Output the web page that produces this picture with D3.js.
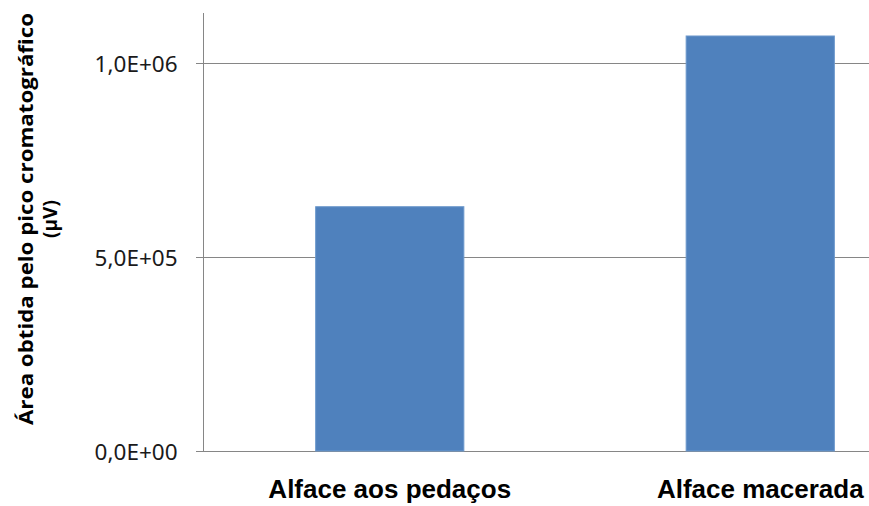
<!DOCTYPE html>
<html>
<head>
<meta charset="utf-8">
<script src="https://cdn.jsdelivr.net/npm/d3@7"></script>
<style>
  html, body { margin: 0; padding: 0; background: #ffffff; }
  svg { display: block; }
</style>
</head>
<body>
<svg id="chart" width="869" height="506"></svg>
<script>
// Chromatographic peak area per lettuce preparation
const categories = ["Alface aos pedaços", "Alface macerada"];
const values = [629600, 1069600];
const tickValues = [0, 500000, 1000000];
const tickLabels = ["0,0E+00", "5,0E+05", "1,0E+06"];
const yTitleLines = ["Área obtida pelo pico cromatográfico", "(µV)"];

const W = 869, H = 506;
const plot = { left: 203.5, top: 13, bottom: 451, right: 945.5 };

const svg = d3.select("#chart");

const y = d3.scaleLinear()
  .domain([0, 1000000])
  .range([plot.bottom, 63]);

const x = d3.scaleBand()
  .domain(categories)
  .range([plot.left + 1, plot.right])
  .paddingInner(0.6)
  .paddingOuter(0.3);

const gridColor = "#868686";

// horizontal gridlines with short ticks left of the axis
const yAxis = d3.axisLeft(y)
  .tickValues(tickValues)
  .tickSize(8)
  .tickPadding(18)
  .tickFormat((d, i) => tickLabels[i]);

const gy = svg.append("g")
  .attr("transform", `translate(${plot.left},0)`)
  .call(yAxis);

gy.select(".domain").remove();
gy.selectAll(".tick line").attr("stroke", gridColor).attr("shape-rendering", "crispEdges");
gy.selectAll(".tick").append("line")
  .attr("x1", 0).attr("x2", W - plot.left)
  .attr("stroke", gridColor)
  .attr("shape-rendering", "crispEdges");
gy.selectAll(".tick text")
  .attr("font-family", "'Noto Sans', 'Open Sans', sans-serif")
  .attr("font-size", 22.5)
  .attr("fill", "#1a1a1a")
  .attr("dy", "0.36em");

// vertical axis line
svg.append("line")
  .attr("x1", plot.left).attr("x2", plot.left)
  .attr("y1", plot.top).attr("y2", plot.bottom)
  .attr("stroke", gridColor)
  .attr("shape-rendering", "crispEdges");

// bars
svg.append("g").selectAll("rect")
  .data(categories)
  .join("rect")
  .attr("x", d => x(d))
  .attr("width", x.bandwidth())
  .attr("y", (d, i) => y(values[i]))
  .attr("height", (d, i) => y(0) - y(values[i]))
  .attr("fill", "#4F81BD")
  .attr("stroke", "#6C98CC")
  .attr("stroke-width", 1);

// category labels
svg.append("g").selectAll("text")
  .data(categories)
  .join("text")
  .attr("x", d => x(d) + x.bandwidth() / 2)
  .attr("y", 498)
  .attr("text-anchor", "middle")
  .attr("font-family", "'Liberation Sans', Arial, sans-serif")
  .attr("font-weight", "bold")
  .attr("font-size", 26)
  .attr("fill", "#000")
  .text(d => d);

// rotated y-axis title
const titleCy = 219;
const yt = svg.append("g");
yt.append("text")
  .attr("transform", `translate(33,${titleCy}) rotate(-90)`)
  .attr("text-anchor", "middle")
  .attr("font-family", "'Open Sans', 'Noto Sans', sans-serif")
  .attr("font-weight", "bold")
  .attr("font-size", 19)
  .attr("textLength", 412)
  .attr("lengthAdjust", "spacingAndGlyphs")
  .attr("fill", "#000")
  .text(yTitleLines[0]);
yt.append("text")
  .attr("transform", `translate(57,${titleCy}) rotate(-90)`)
  .attr("text-anchor", "middle")
  .attr("font-family", "'Open Sans', 'Noto Sans', sans-serif")
  .attr("font-weight", "bold")
  .attr("font-size", 19)
  .attr("fill", "#000")
  .text(yTitleLines[1]);
</script>
</body>
</html>
